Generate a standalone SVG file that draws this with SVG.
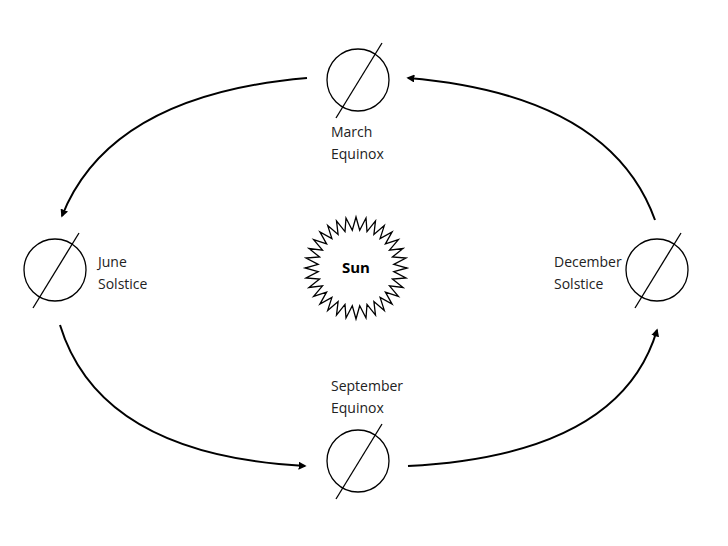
<svg xmlns="http://www.w3.org/2000/svg" width="728" height="546" viewBox="0 0 728 546">
<style>
.p{fill:none;stroke:#000;stroke-width:1.3}
.a{fill:none;stroke:#000;stroke-width:2;marker-end:url(#ah)}
text{font-family:"Open Sans","Liberation Sans",sans-serif;font-size:14px;fill:#222}
</style>
<defs>
<marker id="ah" viewBox="0 0 10 10" refX="8" refY="5" markerWidth="4" markerHeight="4" orient="auto"><path d="M0,0L10,5L0,10z" fill="#000"/></marker>
<g id="pl"><circle class="p" cx="0" cy="0" r="31"/><line class="p" x1="24" y1="-37" x2="-22" y2="38"/></g>
</defs>
<rect width="728" height="546" fill="#fff"/>
<g id="connectors">
<path class="a" d="M307,78 Q110,95 62,216"/>
<path class="a" d="M655,220 Q610,95 408,78"/>
<path class="a" d="M60,325 Q100,455 305,466"/>
<path class="a" d="M408,466 Q620,455 657,330"/>
</g>
<g id="sun">
<polygon class="p" points="407,268 393.8,271.7 406,278 392.4,279 403.1,287.5 389.5,285.9 398.4,296.3 385.4,292.1 392.1,304.1 380.1,297.4 384.3,310.4 373.9,301.5 375.5,315.1 367,304.4 366,318 359.7,305.8 356,319 352.3,305.8 346,318 345,304.4 336.5,315.1 338.1,301.5 327.7,310.4 331.9,297.4 319.9,304.1 326.6,292.1 313.6,296.3 322.5,285.9 308.9,287.5 319.6,279 306,278 318.2,271.7 305,268 318.2,264.3 306,258 319.6,257 308.9,248.5 322.5,250.1 313.6,239.7 326.6,243.9 319.9,231.9 331.9,238.6 327.7,225.6 338.1,234.5 336.5,220.9 345,231.6 346,218 352.3,230.2 356,217 359.7,230.2 366,218 367,231.6 375.5,220.9 373.9,234.5 384.3,225.6 380.1,238.6 392.1,231.9 385.4,243.9 398.4,239.7 389.5,250.1 403.1,248.5 392.4,257 406,258 393.8,264.3"/>
<text x="356" y="273" text-anchor="middle" font-weight="bold" style="fill:#000;font-size:15px">Sun</text>
</g>
<g id="march"><use href="#pl" x="358" y="80"/><text x="331" y="137">March</text><text x="331" y="159">Equinox</text></g>
<g id="june"><use href="#pl" x="55" y="270"/><text x="98" y="267">June</text><text x="98" y="289">Solstice</text></g>
<g id="december"><use href="#pl" x="657" y="270"/><text x="554" y="267">December</text><text x="554" y="289">Solstice</text></g>
<g id="september"><use href="#pl" x="358" y="461"/><text x="331" y="391">September</text><text x="331" y="413">Equinox</text></g>
</svg>
